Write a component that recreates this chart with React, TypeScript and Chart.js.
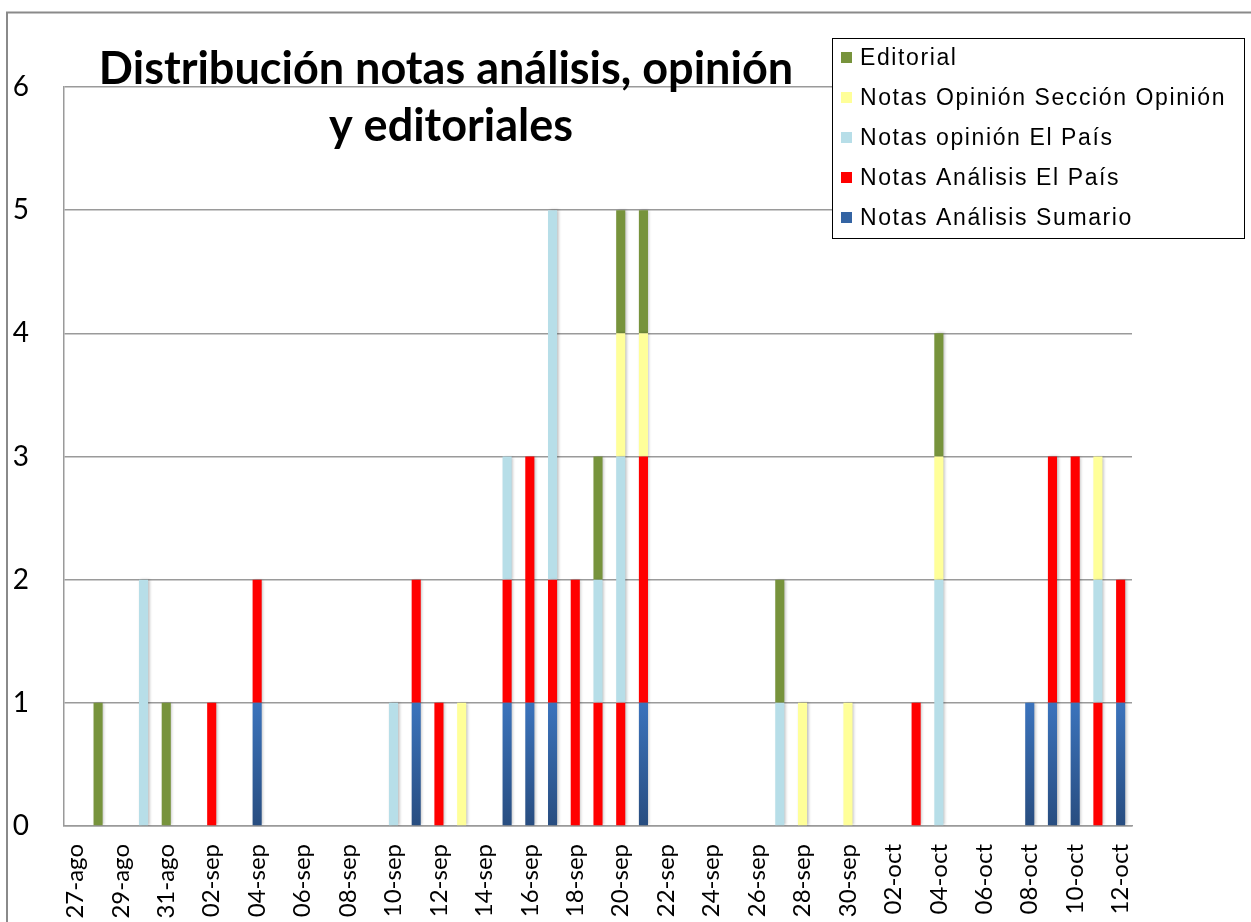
import React, { useEffect, useRef } from 'react';
import { Chart, registerables } from 'chart.js';

Chart.register(...registerables);

const dates = [
  '27-ago', '28-ago', '29-ago', '30-ago', '31-ago',
  '01-sep', '02-sep', '03-sep', '04-sep', '05-sep', '06-sep', '07-sep', '08-sep', '09-sep', '10-sep',
  '11-sep', '12-sep', '13-sep', '14-sep', '15-sep', '16-sep', '17-sep', '18-sep', '19-sep', '20-sep',
  '21-sep', '22-sep', '23-sep', '24-sep', '25-sep', '26-sep', '27-sep', '28-sep', '29-sep', '30-sep',
  '01-oct', '02-oct', '03-oct', '04-oct', '05-oct', '06-oct', '07-oct', '08-oct', '09-oct', '10-oct',
  '11-oct', '12-oct',
];

const analisisSumario = [
  0, 0, 0, 0, 0, 0, 0, 0, 1, 0,
  0, 0, 0, 0, 0, 1, 0, 0, 0, 1,
  1, 1, 0, 0, 0, 1, 0, 0, 0, 0,
  0, 0, 0, 0, 0, 0, 0, 0, 0, 0,
  0, 0, 1, 1, 1, 0, 1,
];

const analisisElPais = [
  0, 0, 0, 0, 0, 0, 1, 0, 1, 0,
  0, 0, 0, 0, 0, 1, 1, 0, 0, 1,
  2, 1, 2, 1, 1, 2, 0, 0, 0, 0,
  0, 0, 0, 0, 0, 0, 0, 1, 0, 0,
  0, 0, 0, 2, 2, 1, 1,
];

const opinionElPais = [
  0, 0, 0, 2, 0, 0, 0, 0, 0, 0,
  0, 0, 0, 0, 1, 0, 0, 0, 0, 1,
  0, 3, 0, 1, 2, 0, 0, 0, 0, 0,
  0, 1, 0, 0, 0, 0, 0, 0, 2, 0,
  0, 0, 0, 0, 0, 1, 0,
];

const opinionSeccion = [
  0, 0, 0, 0, 0, 0, 0, 0, 0, 0,
  0, 0, 0, 0, 0, 0, 0, 1, 0, 0,
  0, 0, 0, 0, 1, 1, 0, 0, 0, 0,
  0, 0, 1, 0, 1, 0, 0, 0, 1, 0,
  0, 0, 0, 0, 0, 1, 0,
];

const editorial = [
  0, 1, 0, 0, 1, 0, 0, 0, 0, 0,
  0, 0, 0, 0, 0, 0, 0, 0, 0, 0,
  0, 0, 0, 1, 1, 1, 0, 0, 0, 0,
  0, 1, 0, 0, 0, 0, 0, 0, 1, 0,
  0, 0, 0, 0, 0, 0, 0,
];

const yTicks = [0, 1, 2, 3, 4, 5, 6];

const titleLines = ['Distribución notas análisis, opinión', 'y editoriales'];

const legendLabels = [
  'Editorial',
  'Notas Opinión Sección Opinión',
  'Notas opinión El País',
  'Notas Análisis El País',
  'Notas Análisis Sumario',
];
const legendColors = ['#77933C', '#FFFF99', '#B7DEE8', '#FF0000', '#3464A3'];

const W = 1251;
const H = 922;

const decorPlugin = {
  id: 'decor',
  beforeDatasetsDraw(chart: any) {
    const ctx = chart.ctx;
    ctx.save();
    ctx.shadowColor = 'rgba(0,0,0,0.28)';
    ctx.shadowBlur = 3;
    ctx.shadowOffsetX = 1.5;
    ctx.shadowOffsetY = 0;
  },
  afterDatasetsDraw(chart: any) {
    chart.ctx.restore();
  },
  afterDraw(chart: any) {
    const ctx = chart.ctx;
    ctx.save();
    // outer frame
    ctx.strokeStyle = '#8a8a8a';
    ctx.lineWidth = 2;
    ctx.strokeRect(7, 12.5, 1400, 1100);

    // title
    ctx.fillStyle = '#000';
    ctx.font = 'bold 45px Lato, sans-serif';
    ctx.textAlign = 'center';
    ctx.textBaseline = 'alphabetic';
    ctx.fillText(titleLines[0], 446, 84);
    ctx.fillText(titleLines[1], 451, 141);

    // legend
    const lx = 832, ly = 38, lw = 412, lh = 200;
    ctx.fillStyle = '#fff';
    ctx.fillRect(lx, ly, lw, lh);
    ctx.strokeStyle = '#000';
    ctx.lineWidth = 1;
    ctx.strokeRect(lx + 0.5, ly + 0.5, lw, lh);
    ctx.font = '23px "Liberation Sans", Arial, sans-serif';
    (ctx as any).letterSpacing = '1.6px';
    ctx.textAlign = 'left';
    ctx.textBaseline = 'middle';
    legendLabels.forEach((lab, i) => {
      const cy = 58 + i * 40;
      ctx.fillStyle = legendColors[i];
      ctx.fillRect(841, cy - 6, 11, 11);
      ctx.fillStyle = '#000';
      ctx.fillText(lab, 860, cy + 1);
    });
    (ctx as any).letterSpacing = '0px';
    ctx.restore();
  },
};

function blueGradient(c: any) {
  const chart = c.chart;
  const { chartArea, scales } = chart;
  if (!chartArea || !scales.y) return '#3464A3';
  const g = chart.ctx.createLinearGradient(0, scales.y.getPixelForValue(1), 0, scales.y.getPixelForValue(0));
  g.addColorStop(0, '#3B73BC');
  g.addColorStop(1, '#284D80');
  return g;
}

export default function App() {
  const ref = useRef<HTMLCanvasElement | null>(null);

  useEffect(() => {
    if (!ref.current) return;
    const chart = new Chart(ref.current, {
      type: 'bar',
      data: {
        labels: dates,
        datasets: [
          { label: legendLabels[4], data: analisisSumario, backgroundColor: blueGradient as any },
          { label: legendLabels[3], data: analisisElPais, backgroundColor: '#FF0000' },
          { label: legendLabels[2], data: opinionElPais, backgroundColor: '#B7DEE8' },
          { label: legendLabels[1], data: opinionSeccion, backgroundColor: '#FFFF99' },
          { label: legendLabels[0], data: editorial, backgroundColor: '#77933C' },
        ],
      },
      options: {
        animation: false,
        responsive: false,
        devicePixelRatio: 1,
        datasets: {
          bar: { categoryPercentage: 0.4, barPercentage: 1, borderWidth: 0 },
        },
        layout: { padding: { left: 0, top: 87, right: 119, bottom: 0 } },
        plugins: {
          legend: { display: false },
          tooltip: { enabled: false },
          title: { display: false },
        },
        scales: {
          x: {
            stacked: true,
            grid: { display: false },
            border: { display: true, color: '#9a9a9a', width: 1.5 },
            ticks: {
              autoSkip: false,
              minRotation: 90,
              maxRotation: 90,
              padding: 10,
              color: '#000',
              font: { family: 'Lato, sans-serif', size: 24 },
              callback: (_v: any, i: number) => (i % 2 === 0 ? dates[i] : ''),
            },
            afterFit: (s: any) => { s.height = H - 826; },
          },
          y: {
            stacked: true,
            min: yTicks[0],
            max: yTicks[yTicks.length - 1],
            grid: { color: '#9a9a9a', lineWidth: 1.5, drawTicks: false },
            border: { display: true, color: '#9a9a9a', width: 1.5 },
            afterBuildTicks: (s: any) => { s.ticks = yTicks.map((v) => ({ value: v })); },
            ticks: {
              padding: 35,
              color: '#000',
              font: { family: 'Lato, sans-serif', size: 28 },
            },
            afterFit: (s: any) => { s.width = 64; },
          },
        },
      },
      plugins: [decorPlugin],
    });
    return () => chart.destroy();
  }, []);

  return (
    <div style={{ position: 'absolute', left: 0, top: 0, width: W, height: H, background: '#fff' }}>
      <canvas ref={ref} width={W} height={H} style={{ width: W, height: H, display: 'block' }} />
    </div>
  );
}
